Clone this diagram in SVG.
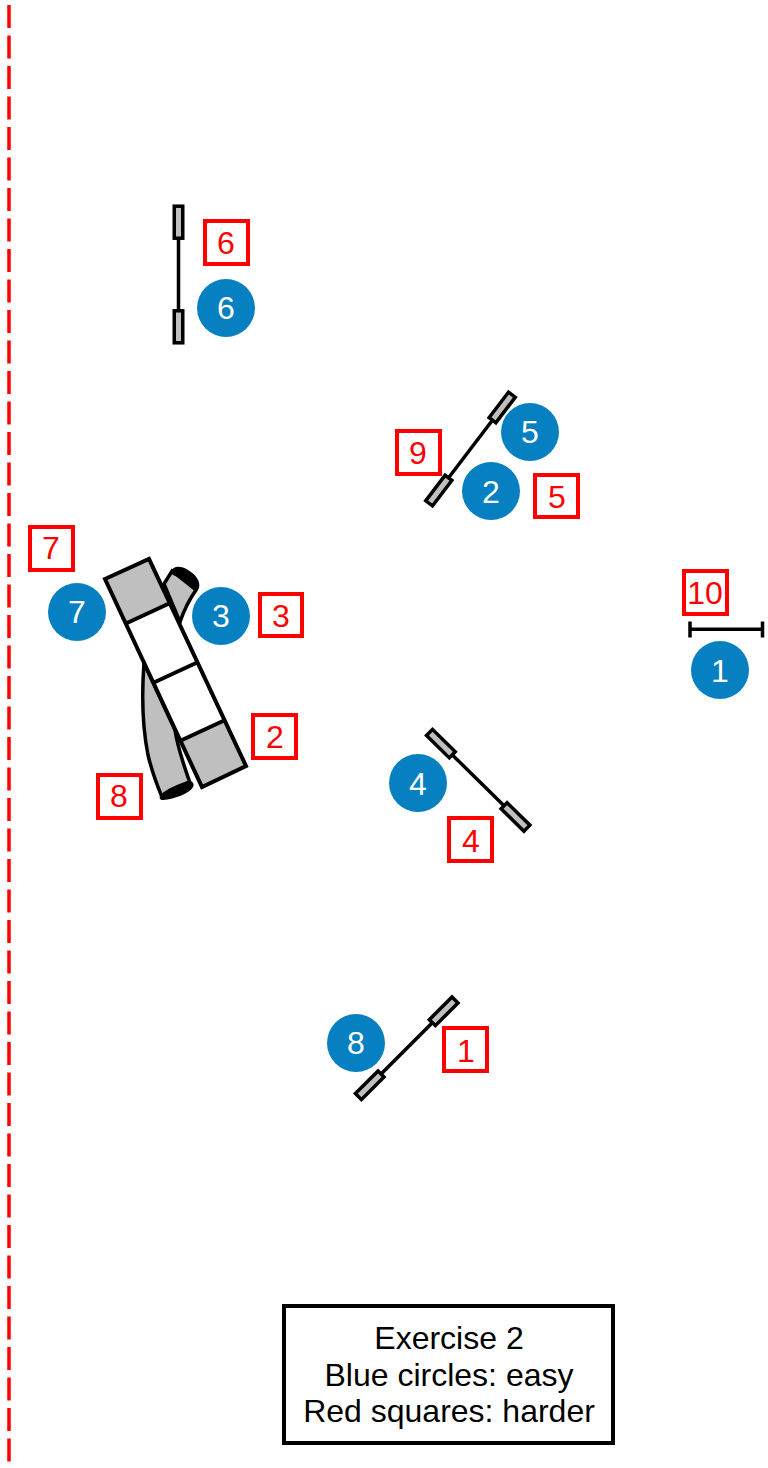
<svg xmlns="http://www.w3.org/2000/svg" width="768" height="1468" viewBox="0 0 768 1468">
<style>
text{font-family:"Liberation Sans",Arial,sans-serif;text-anchor:middle}
.c{fill:#0680c0}
.ct{fill:#fff;font-size:32px}
.s{fill:#fff;stroke:#f00;stroke-width:4}
.st{fill:#f00;font-size:32px}
.l{stroke:#000;stroke-width:3.5;fill:none}
.f{stroke:#000;stroke-width:4;fill:none;stroke-linejoin:miter}
.g{fill:#bfbfbf;stroke:#000;stroke-width:3.5;stroke-linejoin:miter}
.lg{fill:#000;font-size:32px}
</style>
<defs>
<g id="jump"><path class="l" d="M0 -38V38"/><rect class="g" x="-4.25" y="-68.3" width="8.5" height="32"/><rect class="g" x="-4.25" y="36.3" width="8.5" height="32"/></g>
</defs>
<g id="connectors">
<path d="M9 5V1468" fill="none" stroke="#f00" stroke-width="3.5" stroke-dasharray="23 7.5"/>
</g>
<g id="jump-6"><use href="#jump" transform="translate(178.5 274.5)"/></g>
<g id="jump-9"><use href="#jump" transform="translate(470.5 449) rotate(37.3)"/></g>
<g id="jump-4"><use href="#jump" transform="translate(478.2 780.3) rotate(-45.5)"/></g>
<g id="jump-1"><use href="#jump" transform="translate(406.7 1048.3) rotate(45)"/></g>
<g id="jump-10"><path class="l" d="M690 629.3H762.5M690 621.5V637.5M762.5 621.5V637.5"/></g>
<g id="tunnel-top">
<path class="g" d="M164 584L172 571L196 590C189 600 184 610 180 622Z"/>
<path d="M170 572C174 565 181 566 188 570C195 574 201 581 199 588C198 591 195 591 193 589C187 583 180 577 173 575Z" fill="#000"/>
</g>
<g id="tunnel-bottom">
<path class="g" d="M144 663C142 690 141 720 148 755C152 772 157 785 162 797L190 783C184 765 178 750 175 730Z"/>
<path d="M160 796C163 791 173 786 187 781C191 780 195 783 193 787C190 793 175 799 163 800C160 800 159 798 160 796Z" fill="#000"/>
</g>
<g id="a-frame">
<path d="M105 579L149 559L246 766L202 787Z" fill="#fff"/>
<path d="M105 579L149 559L168 604L127 623Z" fill="#bfbfbf"/>
<path d="M182 740L223 721L246 766L202 787Z" fill="#bfbfbf"/>
<path class="f" d="M105 579L149 559L246 766L202 787ZM127 623L168 604M155 682L196 663M182 740L223 721"/>
</g>
<g id="c1"><circle class="c" cx="720" cy="670" r="29"/><text class="ct" x="720" y="682">1</text></g>
<g id="c2"><circle class="c" cx="491" cy="491" r="29"/><text class="ct" x="491" y="503">2</text></g>
<g id="c3"><circle class="c" cx="221" cy="616" r="29"/><text class="ct" x="221" y="627">3</text></g>
<g id="c4"><circle class="c" cx="418" cy="783" r="29"/><text class="ct" x="418" y="795">4</text></g>
<g id="c5"><circle class="c" cx="530" cy="432" r="29"/><text class="ct" x="530" y="443">5</text></g>
<g id="c6"><circle class="c" cx="226" cy="308" r="29"/><text class="ct" x="226" y="319">6</text></g>
<g id="c7"><circle class="c" cx="77" cy="612" r="29"/><text class="ct" x="77" y="623">7</text></g>
<g id="c8"><circle class="c" cx="356" cy="1043" r="29"/><text class="ct" x="356" y="1054">8</text></g>
<g id="s1"><rect class="s" x="444" y="1028" width="43" height="43"/><text class="st" x="466" y="1062">1</text></g>
<g id="s2"><rect class="s" x="253" y="715" width="43" height="43"/><text class="st" x="275" y="748">2</text></g>
<g id="s3"><rect class="s" x="260" y="594" width="42" height="42"/><text class="st" x="281" y="627">3</text></g>
<g id="s4"><rect class="s" x="449" y="818" width="43" height="43"/><text class="st" x="471" y="852">4</text></g>
<g id="s5"><rect class="s" x="535" y="475" width="43" height="42"/><text class="st" x="557" y="508">5</text></g>
<g id="s6"><rect class="s" x="205" y="221" width="43" height="43"/><text class="st" x="226" y="254">6</text></g>
<g id="s7"><rect class="s" x="30" y="527" width="43" height="43"/><text class="st" x="51" y="559">7</text></g>
<g id="s8"><rect class="s" x="98" y="775" width="43" height="43"/><text class="st" x="119" y="807">8</text></g>
<g id="s9"><rect class="s" x="397" y="431" width="43" height="43"/><text class="st" x="418" y="464">9</text></g>
<g id="s10"><rect class="s" x="684" y="571" width="43" height="43"/><text class="st" x="705" y="604">10</text></g>
<g id="legend">
<rect x="284" y="1306" width="329" height="137" fill="#fff" stroke="#000" stroke-width="4"/>
<text class="lg" x="449" y="1349">Exercise 2</text>
<text class="lg" x="449" y="1386">Blue circles: easy</text>
<text class="lg" x="449" y="1422">Red squares: harder</text>
</g>
</svg>
